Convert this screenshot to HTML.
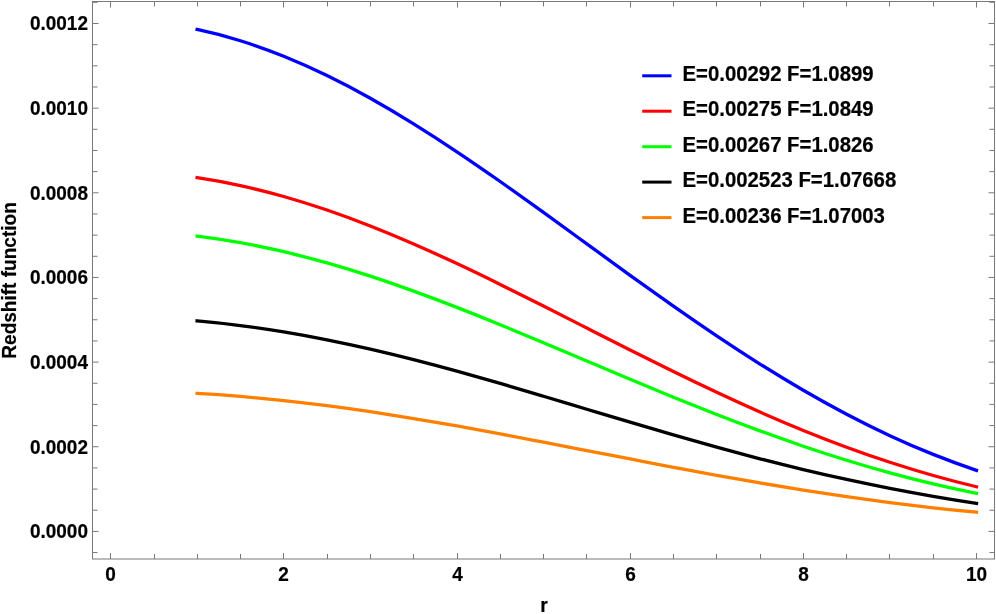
<!DOCTYPE html>
<html><head><meta charset="utf-8"><title>Redshift function</title>
<style>
html,body{margin:0;padding:0;background:#fff;}
svg{display:block;will-change:transform;}
text{font-family:"Liberation Sans",sans-serif;font-weight:bold;fill:#000;stroke:#000;stroke-width:0.2px;stroke-linejoin:round;}
</style></head><body>
<svg width="996" height="614" viewBox="0 0 996 614">
<rect width="996" height="614" fill="#fff"/>
<rect x="92.5" y="1.5" width="902.0" height="557.5" fill="none" stroke="#787878" stroke-width="1"/>
<path d="M110.50 559.0v-6M110.50 1.5v6M154.50 559.0v-5M154.50 1.5v5M197.50 559.0v-5M197.50 1.5v5M240.50 559.0v-5M240.50 1.5v5M283.50 559.0v-6M283.50 1.5v6M327.50 559.0v-5M327.50 1.5v5M370.50 559.0v-5M370.50 1.5v5M413.50 559.0v-5M413.50 1.5v5M457.50 559.0v-6M457.50 1.5v6M500.50 559.0v-5M500.50 1.5v5M543.50 559.0v-5M543.50 1.5v5M586.50 559.0v-5M586.50 1.5v5M630.50 559.0v-6M630.50 1.5v6M673.50 559.0v-5M673.50 1.5v5M716.50 559.0v-5M716.50 1.5v5M760.50 559.0v-5M760.50 1.5v5M803.50 559.0v-6M803.50 1.5v6M846.50 559.0v-5M846.50 1.5v5M889.50 559.0v-5M889.50 1.5v5M933.50 559.0v-5M933.50 1.5v5M976.50 559.0v-6M976.50 1.5v6M92.5 552.56h5M994.5 552.56h-5M92.5 531.40h6M994.5 531.40h-6M92.5 510.24h5M994.5 510.24h-5M92.5 489.07h5M994.5 489.07h-5M92.5 467.91h5M994.5 467.91h-5M92.5 446.75h6M994.5 446.75h-6M92.5 425.59h5M994.5 425.59h-5M92.5 404.42h5M994.5 404.42h-5M92.5 383.26h5M994.5 383.26h-5M92.5 362.10h6M994.5 362.10h-6M92.5 340.94h5M994.5 340.94h-5M92.5 319.77h5M994.5 319.77h-5M92.5 298.61h5M994.5 298.61h-5M92.5 277.45h6M994.5 277.45h-6M92.5 256.29h5M994.5 256.29h-5M92.5 235.12h5M994.5 235.12h-5M92.5 213.96h5M994.5 213.96h-5M92.5 192.80h6M994.5 192.80h-6M92.5 171.64h5M994.5 171.64h-5M92.5 150.47h5M994.5 150.47h-5M92.5 129.31h5M994.5 129.31h-5M92.5 108.15h6M994.5 108.15h-6M92.5 86.99h5M994.5 86.99h-5M92.5 65.82h5M994.5 65.82h-5M92.5 44.66h5M994.5 44.66h-5M92.5 23.50h6M994.5 23.50h-6M92.5 2.34h5M994.5 2.34h-5" stroke="#787878" stroke-width="1" fill="none"/>
<text transform="translate(88 538.20) scale(1 1.045)" text-anchor="end" font-size="19.0">0.0000</text>
<text transform="translate(88 453.55) scale(1 1.045)" text-anchor="end" font-size="19.0">0.0002</text>
<text transform="translate(88 368.90) scale(1 1.045)" text-anchor="end" font-size="19.0">0.0004</text>
<text transform="translate(88 284.25) scale(1 1.045)" text-anchor="end" font-size="19.0">0.0006</text>
<text transform="translate(88 199.60) scale(1 1.045)" text-anchor="end" font-size="19.0">0.0008</text>
<text transform="translate(88 114.95) scale(1 1.045)" text-anchor="end" font-size="19.0">0.0010</text>
<text transform="translate(88 30.30) scale(1 1.045)" text-anchor="end" font-size="19.0">0.0012</text>
<text transform="translate(110.50 580.6) scale(1 1.045)" text-anchor="middle" font-size="19.0">0</text>
<text transform="translate(283.50 580.6) scale(1 1.045)" text-anchor="middle" font-size="19.0">2</text>
<text transform="translate(457.50 580.6) scale(1 1.045)" text-anchor="middle" font-size="19.0">4</text>
<text transform="translate(630.50 580.6) scale(1 1.045)" text-anchor="middle" font-size="19.0">6</text>
<text transform="translate(803.50 580.6) scale(1 1.045)" text-anchor="middle" font-size="19.0">8</text>
<text transform="translate(976.50 580.6) scale(1 1.045)" text-anchor="middle" font-size="19.0">10</text>
<text transform="translate(16.0 280.45) rotate(-90) scale(1 1.035)" text-anchor="middle" font-size="19.05">Redshift function</text>
<text transform="translate(544 612.4) scale(1 1.045)" text-anchor="middle" font-size="19.3">r</text>
<path d="M642.2 75.8H671.5" stroke="#0000ff" stroke-width="3" fill="none"/>
<text transform="translate(682.5 80.80) scale(1 1.045)" font-size="20.35">E=0.00292 F=1.0899</text>
<path d="M642.2 111.2H671.5" stroke="#ff0000" stroke-width="3" fill="none"/>
<text transform="translate(682.5 116.20) scale(1 1.045)" font-size="20.35">E=0.00275 F=1.0849</text>
<path d="M642.2 146.7H671.5" stroke="#00ff00" stroke-width="3" fill="none"/>
<text transform="translate(682.5 151.70) scale(1 1.045)" font-size="20.35">E=0.00267 F=1.0826</text>
<path d="M642.2 182.1H671.5" stroke="#000000" stroke-width="3" fill="none"/>
<text transform="translate(682.5 187.10) scale(1 1.045)" font-size="20.35">E=0.002523 F=1.07668</text>
<path d="M642.2 217.6H671.5" stroke="#ff8000" stroke-width="3" fill="none"/>
<text transform="translate(682.5 222.60) scale(1 1.045)" font-size="20.35">E=0.00236 F=1.07003</text>
<path d="M197.10 29.48C211.53 32.52 225.97 36.30 240.40 40.78C254.83 45.26 269.27 50.43 283.70 56.25C298.13 62.06 312.57 68.51 327.00 75.53C341.43 82.56 355.87 90.14 370.30 98.22C384.73 106.30 399.17 114.86 413.60 123.81C428.03 132.77 442.47 142.12 456.90 151.77C471.33 161.41 485.77 171.36 500.20 181.50C514.63 191.64 529.07 201.97 543.50 212.40C557.93 222.83 572.37 233.35 586.80 243.86C601.23 254.38 615.67 264.89 630.10 275.30C644.53 285.71 658.97 296.02 673.40 306.14C687.83 316.26 702.27 326.20 716.70 335.87C731.13 345.55 745.57 354.96 760.00 364.04C774.43 373.12 788.87 381.88 803.30 390.25C817.73 398.63 832.17 406.62 846.60 414.20C861.03 421.77 875.47 428.93 889.90 435.63C904.33 442.34 918.77 448.60 933.20 454.39C947.63 460.18 962.07 465.50 976.50 470.34" stroke="#0000ff" stroke-width="3.3" fill="none" stroke-linejoin="round" stroke-linecap="square"/>
<path d="M197.10 177.67C211.53 179.81 225.97 182.47 240.40 185.62C254.83 188.77 269.27 192.41 283.70 196.50C298.13 200.59 312.57 205.13 327.00 210.06C341.43 215.00 355.87 220.33 370.30 226.00C384.73 231.67 399.17 237.68 413.60 243.97C428.03 250.25 442.47 256.81 456.90 263.57C471.33 270.33 485.77 277.30 500.20 284.40C514.63 291.50 529.07 298.73 543.50 306.03C557.93 313.33 572.37 320.68 586.80 328.04C601.23 335.39 615.67 342.73 630.10 350.01C644.53 357.28 658.97 364.49 673.40 371.56C687.83 378.64 702.27 385.58 716.70 392.34C731.13 399.11 745.57 405.69 760.00 412.05C774.43 418.40 788.87 424.53 803.30 430.41C817.73 436.28 832.17 441.89 846.60 447.21C861.03 452.54 875.47 457.57 889.90 462.30C904.33 467.02 918.77 471.44 933.20 475.52C947.63 479.60 962.07 483.35 976.50 486.75" stroke="#ff0000" stroke-width="3.3" fill="none" stroke-linejoin="round" stroke-linecap="square"/>
<path d="M197.10 236.07C211.53 237.85 225.97 240.06 240.40 242.67C254.83 245.29 269.27 248.31 283.70 251.70C298.13 255.09 312.57 258.86 327.00 262.95C341.43 267.05 355.87 271.47 370.30 276.18C384.73 280.89 399.17 285.88 413.60 291.09C428.03 296.31 442.47 301.76 456.90 307.37C471.33 312.99 485.77 318.78 500.20 324.68C514.63 330.58 529.07 336.59 543.50 342.65C557.93 348.72 572.37 354.84 586.80 360.95C601.23 367.07 615.67 373.18 630.10 379.23C644.53 385.28 658.97 391.27 673.40 397.16C687.83 403.05 702.27 408.83 716.70 414.47C731.13 420.10 745.57 425.58 760.00 430.88C774.43 436.18 788.87 441.29 803.30 446.19C817.73 451.09 832.17 455.77 846.60 460.22C861.03 464.67 875.47 468.88 889.90 472.83C904.33 476.79 918.77 480.49 933.20 483.93C947.63 487.36 962.07 490.53 976.50 493.41" stroke="#00ff00" stroke-width="3.3" fill="none" stroke-linejoin="round" stroke-linecap="square"/>
<path d="M197.10 320.91C211.53 322.16 225.97 323.71 240.40 325.55C254.83 327.38 269.27 329.50 283.70 331.89C298.13 334.28 312.57 336.93 327.00 339.81C341.43 342.70 355.87 345.82 370.30 349.14C384.73 352.46 399.17 355.98 413.60 359.67C428.03 363.36 442.47 367.21 456.90 371.19C471.33 375.17 485.77 379.27 500.20 383.45C514.63 387.64 529.07 391.91 543.50 396.21C557.93 400.52 572.37 404.87 586.80 409.21C601.23 413.56 615.67 417.90 630.10 422.20C644.53 426.50 658.97 430.76 673.40 434.93C687.83 439.11 702.27 443.21 716.70 447.20C731.13 451.19 745.57 455.07 760.00 458.81C774.43 462.55 788.87 466.16 803.30 469.61C817.73 473.06 832.17 476.35 846.60 479.48C861.03 482.61 875.47 485.58 889.90 488.38C904.33 491.19 918.77 493.82 933.20 496.31C947.63 498.80 962.07 501.13 976.50 503.34" stroke="#000000" stroke-width="3.3" fill="none" stroke-linejoin="round" stroke-linecap="square"/>
<path d="M197.10 393.43C211.53 394.24 225.97 395.25 240.40 396.44C254.83 397.63 269.27 399.01 283.70 400.56C298.13 402.11 312.57 403.82 327.00 405.69C341.43 407.56 355.87 409.58 370.30 411.73C384.73 413.88 399.17 416.16 413.60 418.55C428.03 420.93 442.47 423.42 456.90 425.99C471.33 428.56 485.77 431.21 500.20 433.92C514.63 436.62 529.07 439.38 543.50 442.16C557.93 444.94 572.37 447.75 586.80 450.56C601.23 453.38 615.67 456.19 630.10 458.98C644.53 461.77 658.97 464.54 673.40 467.27C687.83 469.99 702.27 472.67 716.70 475.29C731.13 477.91 745.57 480.46 760.00 482.94C774.43 485.41 788.87 487.80 803.30 490.10C817.73 492.39 832.17 494.59 846.60 496.68C861.03 498.77 875.47 500.76 889.90 502.62C904.33 504.48 918.77 506.21 933.20 507.82C947.63 509.42 962.07 510.89 976.50 512.20" stroke="#ff8000" stroke-width="3.3" fill="none" stroke-linejoin="round" stroke-linecap="square"/>
</svg>
</body></html>
